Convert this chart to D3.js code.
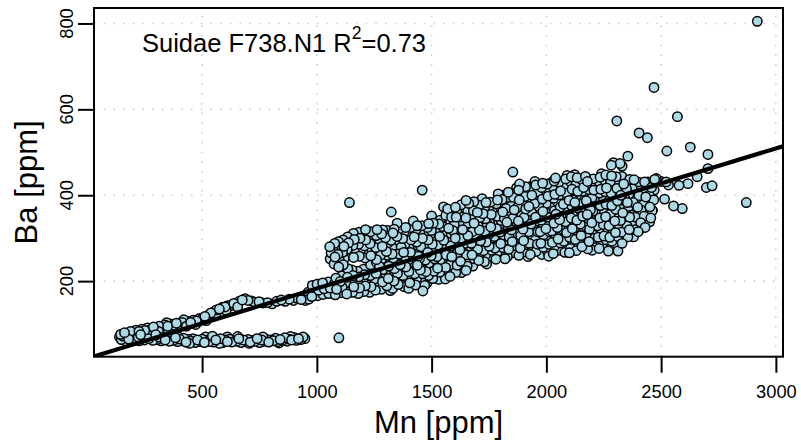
<!DOCTYPE html>
<html><head><meta charset="utf-8">
<script src="https://cdn.jsdelivr.net/npm/d3@7"></script>
<style>
body{margin:0;background:#fff}
svg{display:block}
text{font-family:"Liberation Sans",Arial,Helvetica,sans-serif;fill:#000}
</style>
</head><body>
<svg id="chart" width="801" height="445"></svg>
<script>
// ---------- data (Mn [ppm], Ba [ppm]) ----------
const xTicks = [500, 1000, 1500, 2000, 2500, 3000];
const yTicks = [200, 400, 600, 800];
const xDomain = [29, 3031];
const yDomain = [24, 836];
const fit = {intercept: 20, slope: 0.163};
const titleText = "Suidae F738.N1 R";
const r2Text = "=0.73";
const xLabel = "Mn [ppm]";
const yLabel = "Ba [ppm]";

const lowBand = [[140,70],[148,64],[155,72],[163,66],[172,73],[180,65],[188,71],[197,67],[205,74],[214,64],[222,70],[231,66],[240,72],[249,63],[258,69],[267,66],[276,72],[285,62],[294,68],[303,64],[312,70],[321,61],[330,67],[339,63],[348,69],[357,60],[366,66],[375,62],[384,68],[393,59],[402,65],[411,61],[420,67],[430,58],[440,64],[450,60],[460,66],[470,57],[480,63],[490,59],[500,65],[510,57],[520,62],[530,59],[540,65],[550,58],[560,63],[570,60],[580,66],[590,57],[600,63],[610,59],[620,65],[630,58],[640,62],[650,60],[660,66],[670,57],[680,63],[690,59],[700,64],[710,58],[720,62],[730,60],[740,66],[750,57],[760,63],[770,60],[780,65],[790,58],[800,63],[810,61],[820,67],[830,59],[840,64],[850,62],[860,68],[870,60],[880,65],[890,63],[900,69],[910,62],[920,66],[930,64],[940,70],[948,66],[1096,68],
[145,76],[168,60],[192,77],[226,61],[262,76],[298,75],[395,71],[445,55],[515,70],[575,55],[655,71],[705,55],[765,70],[835,56],[885,71],[545,72],[610,70]];

const risingBand = [[150,76],[162,80],[175,78],[188,83],[200,80],[212,86],[225,83],[238,88],[250,85],[262,91],[275,87],[288,93],[300,90],[312,95],[325,92],[338,98],[350,95],[362,100],[375,97],[388,102],[400,99],[413,104],[425,101],[438,106],[450,104],[462,109],[475,107],[488,113],[500,112],[512,118],[525,120],[538,126],[550,128],[562,133],[575,135],[588,139],[600,140],[612,143],[625,143],[638,148],[650,147],[662,153],[675,156],[688,159],[700,155],[715,154],[730,151],[748,152],[765,149],[785,150],[805,147],[825,153],[845,156],[862,153],[880,158],[898,155],[915,160],[932,157],[950,155],[965,158],
[232,75],[272,80],[310,83],[352,87],[392,91],[432,95],[472,99],[518,108],[560,124],[605,132],[655,140],[345,103],[420,110]];

const lowerMain = [[955,161],[962,174],[978,164],[984,177],[980,190],[1003,166],[1008,179],[1001,193],[1027,169],[1032,182],[1025,196],[1052,171],[1058,184],[1050,198],[1080,168],[1086,181],[1077,194],[1083,207],[1105,173],[1110,186],[1102,199],[1108,212],[1130,170],[1136,183],[1127,196],[1133,209],[1129,221],[1155,174],[1161,187],[1152,200],[1158,213],[1153,226],[1180,171],[1186,184],[1177,197],[1183,210],[1178,223],[1205,176],[1211,189],[1202,202],[1208,215],[1203,228],[1230,174],[1236,187],[1227,200],[1233,213],[1228,226],[1234,238],[1255,179],[1261,192],[1252,205],[1258,218],[1253,231],[1259,244]];

const upperLobe = [[1058,252],[1062,266],[1056,280],[1075,240],[1079,256],[1072,271],[1078,288],[1095,233],[1099,247],[1092,262],[1098,277],[1094,292],[1115,238],[1119,252],[1112,267],[1118,281],[1114,296],[1135,229],[1139,260],[1132,274],[1138,289],[1134,303],[1160,255],[1164,269],[1157,283],[1163,297],[1159,311],[1185,258],[1189,272],[1182,286],[1188,300],[1184,314],[1210,254],[1214,268],[1207,282],[1213,296],[1209,310],[1212,320],[1235,259],[1239,273],[1232,287],[1238,301],[1234,315],[1260,250],[1264,264],[1257,278],[1263,292],[1259,306],[1262,320]];

const mainCluster = [
[1280,181],[1286,198],[1276,207],[1288,227],[1273,234],[1283,252],[1278,261],[1285,281],[1274,293],[1282,310],[1287,319],
[1305,189],[1311,206],[1301,215],[1313,235],[1298,242],[1308,260],[1303,269],[1310,289],[1299,301],[1307,318],
[1330,183],[1336,200],[1326,209],[1338,229],[1323,236],[1333,254],[1328,263],[1335,283],[1324,295],[1332,312],[1337,321],
[1355,192],[1361,209],[1351,218],[1363,238],[1348,245],[1358,263],[1353,272],[1360,292],[1349,304],[1357,321],
[1380,187],[1386,204],[1376,213],[1388,233],[1373,240],[1383,258],[1378,267],[1385,287],[1374,299],[1382,316],[1387,325],
[1405,196],[1411,213],[1401,222],[1413,242],[1398,249],[1408,267],[1403,276],[1410,296],[1399,308],[1407,325],
[1430,191],[1436,208],[1426,217],[1438,237],[1423,244],[1433,262],[1428,271],[1435,291],[1424,303],[1432,320],[1437,329],
[1455,200],[1461,217],[1451,226],[1463,246],[1448,253],[1458,271],[1453,280],[1460,300],[1449,312],[1457,329],
[1480,196],[1486,213],[1476,222],[1488,242],[1473,249],[1483,267],[1478,276],[1485,296],[1474,308],[1482,325],[1487,334],
[1505,206],[1511,223],[1501,232],[1513,252],[1498,259],[1508,277],[1503,286],[1510,306],[1499,318],[1507,335],
[1530,204],[1536,221],[1526,230],[1538,250],[1523,257],[1533,275],[1528,284],[1535,304],[1524,316],[1532,333],[1537,342],
[1555,215],[1561,232],[1551,241],[1563,261],[1548,268],[1558,286],[1553,295],[1560,315],[1549,327],[1557,344],[1562,353],
[1580,211],[1586,228],[1576,237],[1588,257],[1573,264],[1583,282],[1578,291],[1585,311],[1574,323],[1582,340],[1587,349],[1579,363],
[1605,220],[1611,237],[1601,246],[1613,266],[1598,273],[1608,291],[1603,300],[1610,320],[1599,332],[1607,349],[1612,358],[1604,372],
[1630,220],[1636,237],[1626,246],[1638,266],[1623,273],[1633,291],[1628,300],[1635,320],[1624,332],[1632,349],[1637,358],[1629,378],
[1655,235],[1661,252],[1651,261],[1663,281],[1648,288],[1658,306],[1653,315],[1660,335],[1649,347],[1657,364],[1662,381],
[1680,235],[1686,252],[1676,261],[1688,281],[1673,288],[1683,306],[1678,315],[1685,335],[1674,347],[1682,364],[1687,373],[1684,385],
[1705,248],[1711,265],[1701,274],[1713,294],[1698,301],[1708,319],[1703,328],[1710,348],[1699,360],[1707,377],
[1730,245],[1736,262],[1726,271],[1738,291],[1723,298],[1733,316],[1728,325],[1735,345],[1724,357],[1732,374],[1737,383],
[1755,255],[1761,272],[1751,281],[1763,301],[1748,308],[1758,326],[1753,335],[1760,355],[1749,367],[1757,384],
[1780,251],[1786,268],[1776,277],[1788,297],[1773,304],[1783,322],[1778,331],[1785,351],[1774,363],[1782,380],[1787,389],
[1805,261],[1811,278],[1801,287],[1813,307],[1798,314],[1808,332],[1803,341],[1810,361],[1799,373],[1807,390],[1812,399],
[1830,257],[1836,274],[1826,283],[1838,303],[1823,310],[1833,328],[1828,337],[1835,357],[1824,369],[1832,386],[1837,395],[1834,407],
[1855,266],[1861,283],[1851,292],[1863,312],[1848,319],[1858,337],[1853,346],[1860,366],[1849,378],[1857,395],[1862,404],
[1880,260],[1886,277],[1876,286],[1888,306],[1873,313],[1883,331],[1878,340],[1885,360],[1874,372],[1882,389],[1887,398],[1879,412],
[1905,268],[1911,285],[1901,294],[1913,314],[1898,321],[1908,339],[1903,348],[1910,368],[1899,380],[1907,397],[1912,406],[1909,420],
[1930,262],[1936,279],[1926,288],[1938,308],[1923,315],[1933,333],[1928,342],[1935,362],[1924,374],[1932,391],[1937,400],[1929,420],
[1955,269],[1961,286],[1951,295],[1963,315],[1948,322],[1958,340],[1953,349],[1960,369],[1949,381],[1957,398],[1962,407],[1954,424],
[1980,262],[1986,279],[1976,288],[1988,308],[1973,315],[1983,333],[1978,342],[1985,362],[1974,374],[1982,391],[1987,400],[1979,418],[1984,428],
[2005,269],[2011,286],[2001,295],[2013,315],[1998,322],[2008,340],[2003,349],[2010,369],[1999,381],[2007,398],[2012,407],[2004,426],
[2030,264],[2036,281],[2026,290],[2038,310],[2023,317],[2033,335],[2028,344],[2035,364],[2024,376],[2032,393],[2037,402],[2029,420],[2034,433],
[2055,272],[2061,289],[2051,298],[2063,318],[2048,325],[2058,343],[2053,352],[2060,372],[2049,384],[2057,401],[2062,410],[2054,430],
[2080,267],[2086,284],[2076,293],[2088,313],[2073,320],[2083,338],[2078,347],[2085,367],[2074,379],[2082,396],[2087,405],[2079,423],[2084,438],
[2105,276],[2111,293],[2101,302],[2113,322],[2098,329],[2108,347],[2103,356],[2110,376],[2099,388],[2107,405],[2112,414],[2104,432],[2109,443],
[2130,271],[2136,288],[2126,297],[2138,317],[2123,324],[2133,342],[2128,351],[2135,371],[2124,383],[2132,400],[2137,409],[2129,427],[2134,441],
[2155,280],[2161,297],[2151,306],[2163,326],[2148,333],[2158,351],[2153,360],[2160,380],[2149,392],[2157,409],[2162,418],[2154,436],
[2180,275],[2186,292],[2176,301],[2188,321],[2173,328],[2183,346],[2178,355],[2185,375],[2174,387],[2182,404],[2187,413],[2179,432],
[2205,283],[2211,300],[2201,309],[2213,329],[2198,336],[2208,354],[2203,363],[2210,383],[2199,395],[2207,412],[2212,421],[2204,438],
[2230,276],[2236,293],[2226,302],[2238,322],[2223,329],[2233,347],[2228,356],[2235,376],[2224,388],[2232,405],[2237,414],[2229,432],[2234,442],
[2255,279],[2261,296],[2251,305],[2263,325],[2248,332],[2258,350],[2253,359],[2260,379],[2249,391],[2257,408],[2262,417],[2254,435],[2259,447],
[2280,276],[2286,293],[2276,302],[2288,322],[2273,329],[2283,347],[2278,356],[2285,376],[2274,388],[2282,405],[2287,414],[2279,432],[2284,445],
[2305,287],[2311,304],[2301,313],[2313,333],[2298,340],[2308,358],[2303,367],[2310,387],[2299,399],[2307,416],[2312,425],[2304,443],
[2330,288],[2336,305],[2326,314],[2338,334],[2323,341],[2333,359],[2328,368],[2335,388],[2324,400],[2332,417],[2337,426],[2329,444],
[2355,303],[2361,320],[2351,329],[2363,349],[2348,356],[2358,374],[2353,383],[2360,403],[2349,415],[2357,432],
[2380,303],[2386,320],[2376,329],[2388,349],[2373,356],[2383,374],[2378,383],[2385,403],[2374,415],[2382,436],
[2405,319],[2411,336],[2401,345],[2413,365],[2398,372],[2408,390],[2403,399],[2410,419],[2399,431],
[2430,325],[2436,342],[2426,351],[2438,371],[2423,378],[2433,396],[2428,405],[2435,425],
[2455,347],[2461,364],[2451,373],[2463,393],[2448,400],[2458,418]
];

const edgePoints = [[1350,335],[1420,340],[1500,352],[1570,368],[1650,388],[1720,392],[1790,403],[1870,417],[1950,432],[2040,440],[2090,446],[2170,444],[2240,450],
[1320,178],[1400,183],[1470,190],[1560,205],[1650,225],[1740,240],[1820,252],[1920,257],[2010,258],[2100,266],[2200,272],[2270,270],
[1292,245],[1367,279],[1442,258],[1517,292],[1592,318],[1667,296],[1742,333],[1817,346],[1892,352],[1967,374],[2042,356],[2117,389],[2192,366],[2267,398],[2342,392]];

const scattered = [[1142,383],[1324,361],[1459,412],[1552,373],[1854,454],[1462,177],[1810,400],[1883,426],[2028,432],[2123,448],
[2283,470],[2292,476],[2321,474],[2355,491],[2330,468],[2307,573],[2404,545],[2440,534],[2469,651],[2571,583],[2525,503],[2627,512],
[2704,495],[2704,462],[2697,418],[2722,422],[2871,383],[2919,805],[2657,443],[2617,427],[2578,423],[2532,424],[2515,391],[2554,375],
[2592,369],[2312,270],[2472,437],[2443,431],[2479,439],[2500,432],[2522,431],[2400,315],[2450,338],[2468,389],[2462,365],[2470,412],[2428,431],[2363,437]];

// ---------- drawing ----------
const W = 801, H = 445;
const plot = {left: 94, right: 783, top: 8, bottom: 356.7};
const svg = d3.select("#chart");
svg.append("rect").attr("width", W).attr("height", H).attr("fill", "#fff");

const x = d3.scaleLinear().domain(xDomain).range([plot.left, plot.right]);
const y = d3.scaleLinear().domain(yDomain).range([plot.bottom, plot.top]);

svg.append("defs").append("clipPath").attr("id", "clip")
  .append("rect").attr("x", plot.left).attr("y", plot.top)
  .attr("width", plot.right - plot.left).attr("height", plot.bottom - plot.top);

// grid
const grid = svg.append("g").attr("stroke", "#cfcfcf").attr("stroke-width", 1.6).attr("stroke-dasharray", "1.6,8.1");
grid.selectAll("line.v").data(xTicks).join("line").attr("class", "v")
  .attr("x1", d => x(d)).attr("x2", d => x(d)).attr("y1", plot.bottom).attr("y2", plot.top);
grid.selectAll("line.h").data(yTicks).join("line").attr("class", "h")
  .attr("y1", d => y(d)).attr("y2", d => y(d)).attr("x1", plot.left).attr("x2", plot.right);

// points (drawn in a shuffled-looking, deterministic order so overlaps look natural)
const allPoints = [].concat(lowBand, risingBand, lowerMain, upperLobe, mainCluster, edgePoints, scattered);
const n = allPoints.length;
const order = d3.range(n).sort((a, b) => ((a * 389) % 997) - ((b * 389) % 997) || a - b);
const drawPoints = order.map(i => allPoints[i]);
svg.append("g").attr("clip-path", "url(#clip)")
  .selectAll("circle").data(drawPoints).join("circle")
  .attr("cx", d => x(d[0])).attr("cy", d => y(d[1])).attr("r", 4.7)
  .attr("fill", "#ADD8E6").attr("stroke", "#000").attr("stroke-width", 1.5);

// regression line
svg.append("g").attr("clip-path", "url(#clip)").append("line")
  .attr("x1", x(xDomain[0])).attr("y1", y(fit.intercept + fit.slope * xDomain[0]))
  .attr("x2", x(xDomain[1])).attr("y2", y(fit.intercept + fit.slope * xDomain[1]))
  .attr("stroke", "#000").attr("stroke-width", 4.2);

// box
svg.append("rect").attr("x", plot.left).attr("y", plot.top)
  .attr("width", plot.right - plot.left).attr("height", plot.bottom - plot.top)
  .attr("fill", "none").attr("stroke", "#000").attr("stroke-width", 2);

// x axis
const xAxis = d3.axisBottom(x).tickValues(xTicks).tickSize(16).tickPadding(12.5).tickFormat(d3.format("d"));
const gx = svg.append("g").attr("transform", `translate(0,${plot.bottom})`).call(xAxis);
gx.select(".domain").remove();
gx.selectAll(".tick line").attr("stroke-width", 2);
gx.selectAll("text").attr("font-size", 18.3).attr("font-family", '"Liberation Sans",Arial,sans-serif');

// y axis
const yAxis = d3.axisLeft(y).tickValues(yTicks).tickSize(16).tickFormat("");
const gy = svg.append("g").attr("transform", `translate(${plot.left},0)`).call(yAxis);
gy.select(".domain").remove();
gy.selectAll(".tick line").attr("stroke-width", 2);
svg.append("g").selectAll("text").data(yTicks).join("text")
  .attr("transform", d => `translate(73,${y(d)}) rotate(-90)`)
  .attr("text-anchor", "middle").attr("font-size", 18.3).text(d => d);

// axis titles
svg.append("text").attr("x", (plot.left + plot.right) / 2).attr("y", 433)
  .attr("text-anchor", "middle").attr("font-size", 31).text(xLabel);
svg.append("text").attr("transform", `translate(37,${(plot.top + plot.bottom) / 2}) rotate(-90)`)
  .attr("text-anchor", "middle").attr("font-size", 31).text(yLabel);

// annotation
const t = svg.append("text").attr("x", 142).attr("y", 52).attr("font-size", 25.5);
t.append("tspan").text(titleText);
t.append("tspan").attr("font-size", 17.5).attr("dy", -13).text("2");
t.append("tspan").attr("dy", 13).text(r2Text);
</script>
</body></html>
